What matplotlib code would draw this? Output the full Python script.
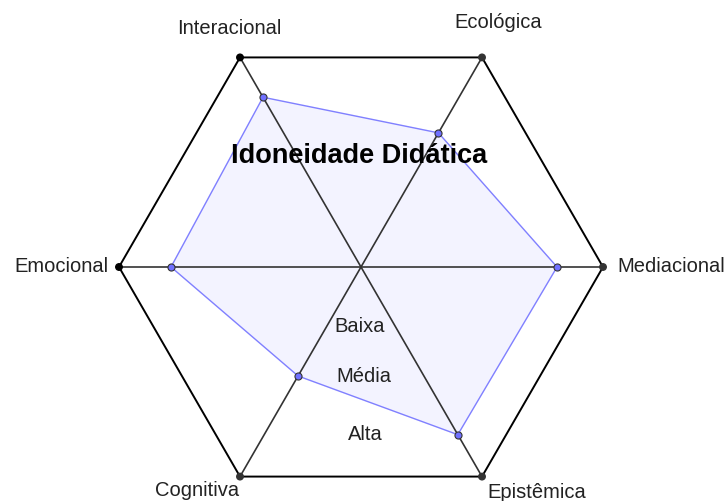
import numpy as np
import matplotlib.pyplot as plt

plt.rcParams['font.family'] = ['Liberation Sans', 'DejaVu Sans']

# dimensoes da idoneidade (sentido anti-horario a partir da direita)
dimensoes = ['Mediacional', 'Ecológica', 'Interacional', 'Emocional', 'Cognitiva', 'Epistêmica']
valores = [0.81, 0.64, 0.81, 0.785, 0.52, 0.80]
niveis = ['Baixa', 'Média', 'Alta']

angulos = np.deg2rad(np.arange(0, 360, 60))
vx, vy = np.cos(angulos), np.sin(angulos)
px, py = np.array(valores) * vx, np.array(valores) * vy

fig = plt.figure(figsize=(7.28, 5.01), dpi=100)
ax = fig.add_axes([0, 0, 1, 1])
ax.set_xlim(-361 / 242, (728 - 361) / 242)
ax.set_ylim(-(501 - 267) / 242, 267 / 242)
ax.set_aspect('equal')
ax.axis('off')

# poligono das avaliacoes
ax.fill(px, py, color='#f3f3ff', zorder=1)
ax.plot(np.append(px, px[0]), np.append(py, py[0]), color='#8080ff', lw=1.0, zorder=3)

# eixos
for i in range(3):
    ax.plot([vx[i], vx[i + 3]], [vy[i], vy[i + 3]], color='#333333', lw=1.2, zorder=2)

# hexagono
ax.plot(np.append(vx, vx[0]), np.append(vy, vy[0]), color='black', lw=1.4, zorder=2)
cores_vert = ['#333333', '#333333', 'black', 'black', '#333333', '#333333']
ax.scatter(vx, vy, s=22, c=cores_vert, zorder=4)

ax.scatter(px, py, s=26, c='#7070ff', edgecolors='#333333', linewidths=0.8, zorder=5)

# rotulos das dimensoes
def pos(x, y):
    return (x - 361) / 242, (267 - y) / 242

rotulos = {
    'Mediacional': (617, 266, 'left'),
    'Ecológica': (498, 23, 'center'),
    'Interacional': (229, 28, 'center'),
    'Emocional': (108, 266, 'right'),
    'Cognitiva': (197, 490, 'center'),
    'Epistêmica': (487, 492, 'left'),
}
for nome in dimensoes:
    x, y, ha = rotulos[nome]
    ax.text(*pos(x, y), nome, ha=ha, va='center', fontsize=14.5, color='#222222')

pos_niveis = [(360, 327), (364, 376), (365, 434)]
for nivel, (x, y) in zip(niveis, pos_niveis):
    ax.text(*pos(x, y), nivel, ha='center', va='center', fontsize=14.5, color='#222222', zorder=6)

ax.text(*pos(359, 156), 'Idoneidade Didática', ha='center', va='center',
        fontsize=19.5, fontweight='bold', color='black', zorder=6)

fig.savefig('out.png', dpi=100)
